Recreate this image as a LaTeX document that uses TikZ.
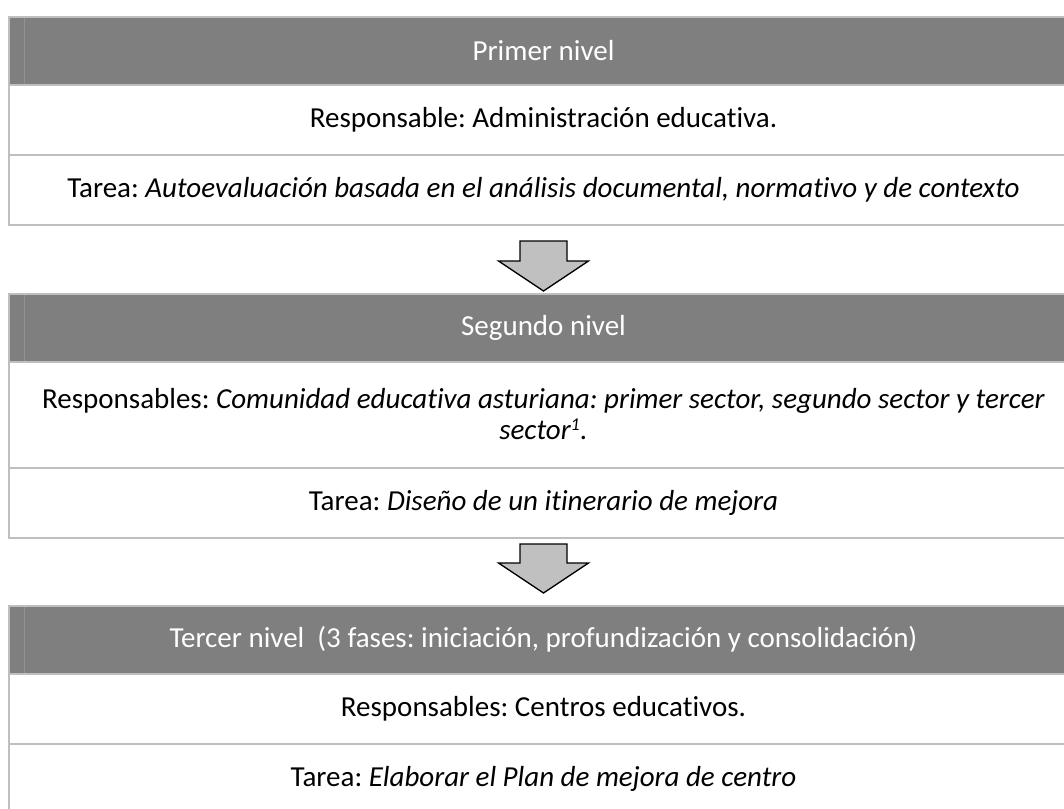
\documentclass[tikz,border=0pt]{standalone}
\usepackage{fontspec}
\setmainfont[Ligatures=NoCommon]{Carlito}
\definecolor{hdrgray}{HTML}{7F7F7F}
\definecolor{linegray}{HTML}{BFBFBF}
\definecolor{arrowgray}{HTML}{C0C0C0}
\begin{document}
\frenchspacing
\begin{tikzpicture}[x=1pt,y=-1pt,
  cell/.style={draw=linegray,line width=2pt,minimum width=1069pt,inner sep=0pt,outer sep=0pt,
    font=\fontsize{29}{31}\selectfont,align=center},
  hdr/.style={cell,fill=hdrgray,text=white,minimum height=68pt},
  row/.style={cell,fill=white,text=black,minimum height=70pt},
  tallrow/.style={cell,fill=white,text=black,minimum height=106pt},
  downarrow/.style={draw=black,line width=1.3pt,fill=arrowgray,line join=miter},
  faint/.style={draw=hdrgray!85!white,line width=0.8pt}]
\useasboundingbox (0,0) rectangle (1064,808);
\fill[white] (0,0) rectangle (1064,808);
% Table 1
\node[hdr] (h1) at (543.5,51) {Primer nivel};
\node[row,anchor=north] (r1a) at (h1.south) {Responsable: Administración educativa.};
\node[row,anchor=north] (r1b) at (r1a.south) {Tarea: \textit{Autoevaluación basada en el análisis documental, normativo y de contexto}};
% Table 2
\node[hdr] (h2) at (543.5,327.5) {Segundo nivel};
\node[tallrow,anchor=north] (r2a) at (h2.south) {Responsables: \textit{Comunidad educativa asturiana: primer sector, segundo sector y tercer}\\\textit{sector\textsuperscript{\fontsize{18}{18}\selectfont 1}.}};
\node[row,anchor=north] (r2b) at (r2a.south) {Tarea: \textit{Diseño de un itinerario de mejora}};
% Table 3
\node[hdr] (h3) at (543.5,639.5) {Tercer nivel\ \ (3 fases: iniciación, profundización y consolidación)};
\node[row,anchor=north] (r3a) at (h3.south) {Responsables: Centros educativos.};
\node[row,anchor=north] (r3b) at (r3a.south) {Tarea: \textit{Elaborar el Plan de mejora de centro}};
% faint inner lines in headers
\foreach \h in {h1,h2,h3}{
  \draw[faint] ([xshift=15pt,yshift=-1pt]\h.north west) -- ([xshift=15pt,yshift=1pt]\h.south west);
}
% arrows
\coordinate (a1top) at (543.5,241);
\coordinate (a1tip) at (543.5,291);
\coordinate (a2top) at (543.5,544);
\coordinate (a2tip) at (543.5,593);
\draw[downarrow] ([xshift=-23.5pt]a1top) -- ([xshift=23.5pt]a1top) -- ([xshift=23.5pt,yshift=30pt]a1tip)
  -- ([xshift=45pt,yshift=30pt]a1tip) -- (a1tip) -- ([xshift=-45pt,yshift=30pt]a1tip)
  -- ([xshift=-23.5pt,yshift=30pt]a1tip) -- cycle;
\draw[downarrow] ([xshift=-23.5pt]a2top) -- ([xshift=23.5pt]a2top) -- ([xshift=23.5pt,yshift=30pt]a2tip)
  -- ([xshift=45pt,yshift=30pt]a2tip) -- (a2tip) -- ([xshift=-45pt,yshift=30pt]a2tip)
  -- ([xshift=-23.5pt,yshift=30pt]a2tip) -- cycle;
\end{tikzpicture}
\end{document}
